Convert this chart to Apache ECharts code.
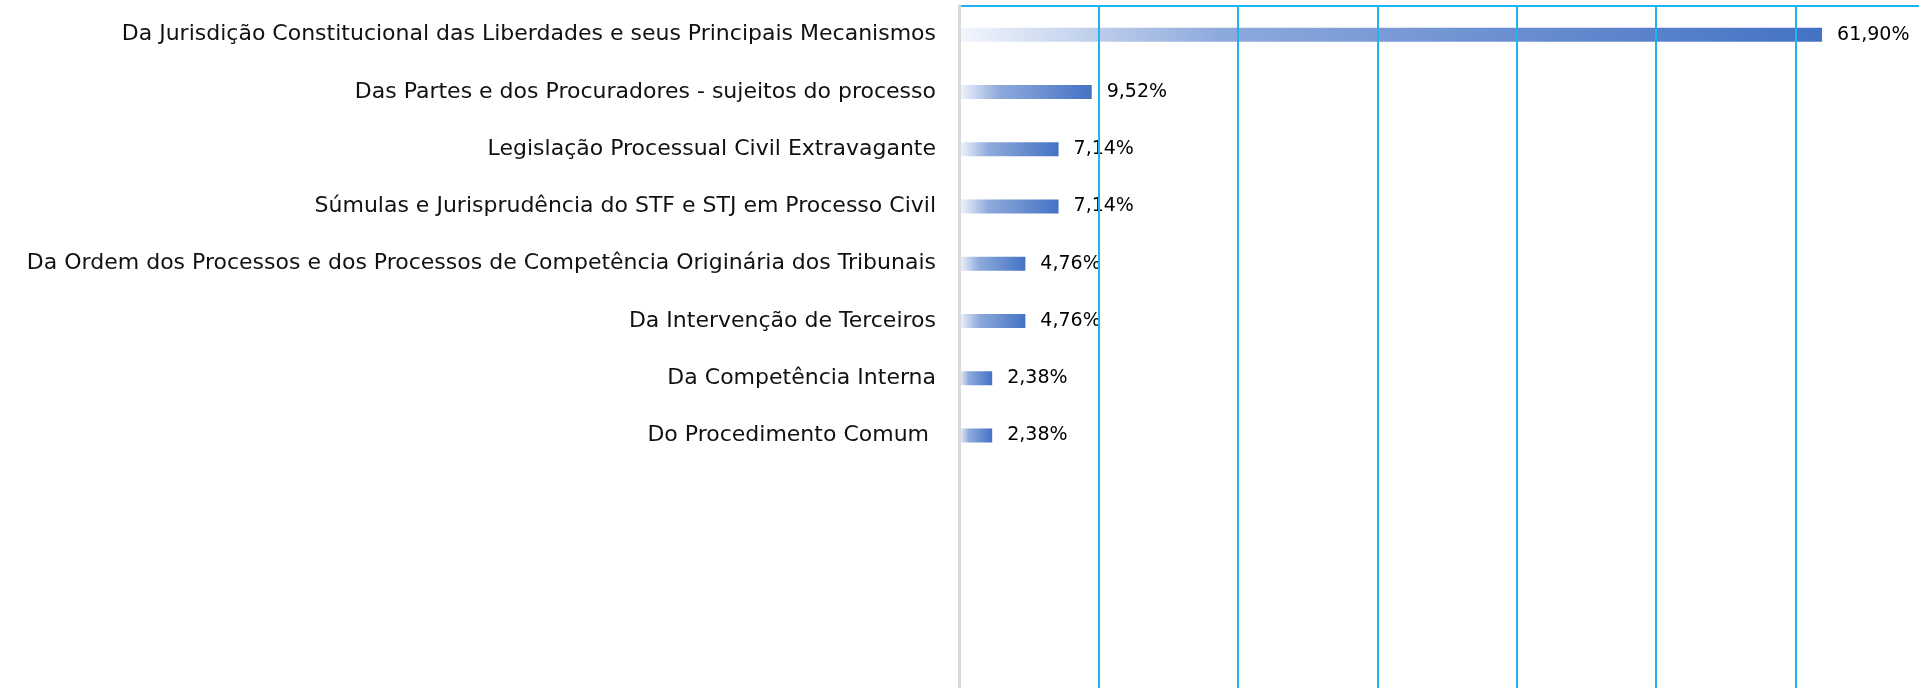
<!DOCTYPE html>
<html>
<head>
<meta charset="utf-8">
<script src="https://cdn.jsdelivr.net/npm/echarts@6/dist/echarts.min.js"></script>
<style>
html,body{margin:0;padding:0;background:#fff;}
#chart{width:1919px;height:688px;}
</style>
</head>
<body>
<div id="chart"></div>
<script>
var categories = [
  "Da Jurisdição Constitucional das Liberdades e seus Principais Mecanismos",
  "Das Partes e dos Procuradores - sujeitos do processo",
  "Legislação Processual Civil Extravagante",
  "Súmulas e Jurisprudência do STF e STJ em Processo Civil",
  "Da Ordem dos Processos e dos Processos de Competência Originária dos Tribunais",
  "Da Intervenção de Terceiros",
  "Da Competência Interna",
  "Do Procedimento Comum ",
  "", "", "", ""
];
var values = [61.90, 9.52, 7.14, 7.14, 4.76, 4.76, 2.38, 2.38];

var chart = echarts.init(document.getElementById('chart'));
var barColor = new echarts.graphic.LinearGradient(0, 0, 1, 0, [
  {offset: 0, color: '#f3f6fc'},
  {offset: 0.3, color: '#8eaadc'},
  {offset: 1, color: '#4472c4'}
]);
chart.setOption({
  animation: false,
  grid: {left: 959, width: 976, top: 6, height: 687, containLabel: false, outerBoundsMode: 'none'},
  xAxis: {
    type: 'value', min: 0, max: 70, interval: 10, position: 'top', z: 5,
    axisLine: {show: true, lineStyle: {color: '#1db4ef', width: 2}},
    axisTick: {show: false},
    axisLabel: {show: false},
    splitLine: {show: true, lineStyle: {color: '#1db4ef', width: 2}}
  },
  yAxis: {
    type: 'category', inverse: true, data: categories, z: 6,
    axisLine: {show: true, lineStyle: {color: '#d9d9d9', width: 3}},
    axisTick: {show: false},
    axisLabel: {margin: 23, color: '#111', fontSize: 22, fontFamily: 'DejaVu Sans'},
    splitLine: {show: false}
  },
  series: [{
    type: 'bar', barWidth: 14,
    data: values,
    itemStyle: {color: barColor},
    label: {
      show: true, position: 'right', distance: 15, color: '#000',
      fontSize: 19, fontFamily: 'DejaVu Sans',
      formatter: function (p) { return p.value.toFixed(2).replace('.', ',') + '%'; }
    }
  }]
});
</script>
</body>
</html>
